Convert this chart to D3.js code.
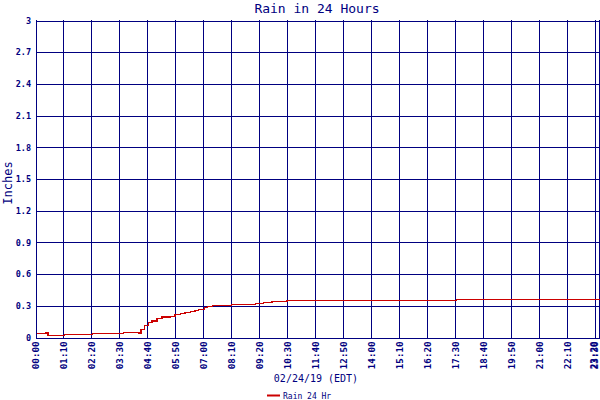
<!DOCTYPE html>
<html>
<head>
<meta charset="utf-8">
<script src="https://cdn.jsdelivr.net/npm/d3@7"></script>
<style>
  html, body { margin: 0; padding: 0; background: #fff; }
  svg { display: block; }
  text { font-family: "DejaVu Sans Mono", "Liberation Mono", monospace; fill: #000080; }
</style>
</head>
<body>
<svg id="chart" width="600" height="400"></svg>
<script>
// ---- data ----
const times = ["00:00","00:24","00:29","01:10","02:20","03:38","04:15","04:22","04:30","04:40","04:49",
               "05:02","05:14","05:35","05:47","06:00","06:12","06:25","06:37","06:46","07:00","07:08",
               "07:20","08:09","09:08","09:29","09:50","10:27","17:31","23:30"];
const rain  = [0.038,0.047,0.016,0.028,0.038,0.047,0.044,0.076,0.114,0.139,0.155,
               0.177,0.193,0.202,0.215,0.224,0.234,0.243,0.253,0.262,0.281,0.296,
               0.303,0.312,0.322,0.331,0.341,0.350,0.357,0.357];
const yTicks = [0,0.3,0.6,0.9,1.2,1.5,1.8,2.1,2.4,2.7,3];
const yTickLabels = ["0","0.3","0.6","0.9","1.2","1.5","1.8","2.1","2.4","2.7","3"];
const xTickLabels = ["00:00","01:10","02:20","03:30","04:40","05:50","07:00","08:10","09:20","10:30",
                     "11:40","12:50","14:00","15:10","16:20","17:30","18:40","19:50","21:00","22:10","23:20","23:30"];

(function () {
const toMin = s => { const [h, m] = s.split(":").map(Number); return h * 60 + m; };
const data = times.map((t, i) => ({ t: toMin(t), v: rain[i] }));
const xTickVals = xTickLabels.map(toMin);
const n = xTickLabels.length;

const svg = d3.select("#chart");
const pLeft = 36.5, pRight = 599.5, pTop = 20.5, pBottom = 337.5;

const x = d3.scaleLinear().domain([0, toMin("23:30")]).range([pLeft, pRight]);
const y = d3.scaleLinear().domain([0, 3]).range([pBottom, pTop]);

const navy = "#000080";
const grid = svg.append("g").attr("shape-rendering", "crispEdges");
grid.selectAll("line.h").data(yTicks).enter().append("line")
  .attr("x1", pLeft - 1).attr("x2", pRight)
  .attr("y1", d => Math.round(y(d)) + 0.5).attr("y2", d => Math.round(y(d)) + 0.5)
  .attr("stroke", navy).attr("stroke-width", 1);
grid.selectAll("line.v").data(xTickVals).enter().append("line")
  .attr("y1", pTop - 0.5).attr("y2", pBottom + 0.5)
  .attr("x1", d => Math.round(x(d)) - 0.5).attr("x2", d => Math.round(x(d)) - 0.5)
  .attr("stroke", navy).attr("stroke-width", 1);

// Y axis labels
const yAxis = d3.axisLeft(y).tickValues(yTicks).tickSize(0).tickPadding(5)
  .tickFormat((d, i) => yTickLabels[i]);
const gy = svg.append("g").attr("transform", `translate(${pLeft - 0.5},0)`).call(yAxis);
gy.select(".domain").remove();
gy.selectAll("text").style("font-size", "8.5px").style("font-weight", "bold").attr("fill", navy)
  .attr("font-family", "DejaVu Sans Mono");

// X axis labels
const xAxis = d3.axisBottom(x).tickValues(xTickVals).tickSize(0)
  .tickFormat((d, i) => xTickLabels[i]);
const gx = svg.append("g").attr("transform", `translate(0,${pBottom})`).call(xAxis);
gx.select(".domain").remove();
gx.selectAll("text")
  .attr("transform", "rotate(-90)")
  .attr("text-anchor", "end")
  .attr("x", -4)
  .attr("y", (d, i) => i === n - 1 ? -5 : (i === n - 2 ? -1.5 : -0.5))
  .attr("dy", "0.32em")
  .attr("font-family", "DejaVu Sans Mono")
  .style("font-size", "9.2px").style("font-weight", "bold").attr("fill", navy);

// Line
const line = d3.line().x(d => x(d.t)).y(d => y(d.v)).curve(d3.curveStepAfter);
svg.append("path").datum(data)
  .attr("d", line).attr("fill", "none").attr("stroke", "#cc0000").attr("stroke-width", 1.3)
  .attr("shape-rendering", "crispEdges");

// Title
svg.append("text").attr("x", 317).attr("y", 12.5).attr("text-anchor", "middle")
  .style("font-size", "13px").text("Rain in 24 Hours");
// Y title
svg.append("text").attr("transform", "translate(12,183) rotate(-90)").attr("text-anchor", "middle")
  .style("font-size", "12px").text("Inches");
// X title
svg.append("text").attr("x", 316).attr("y", 382).attr("text-anchor", "middle")
  .style("font-size", "10px").text("02/24/19 (EDT)");
// Legend
svg.append("line").attr("x1", 267).attr("x2", 280).attr("y1", 395.5).attr("y2", 395.5)
  .attr("stroke", "#cc0000").attr("stroke-width", 2);
svg.append("text").attr("x", 283).attr("y", 398.5)
  .style("font-size", "8px").text("Rain 24 Hr");
})();
</script>
</body>
</html>
